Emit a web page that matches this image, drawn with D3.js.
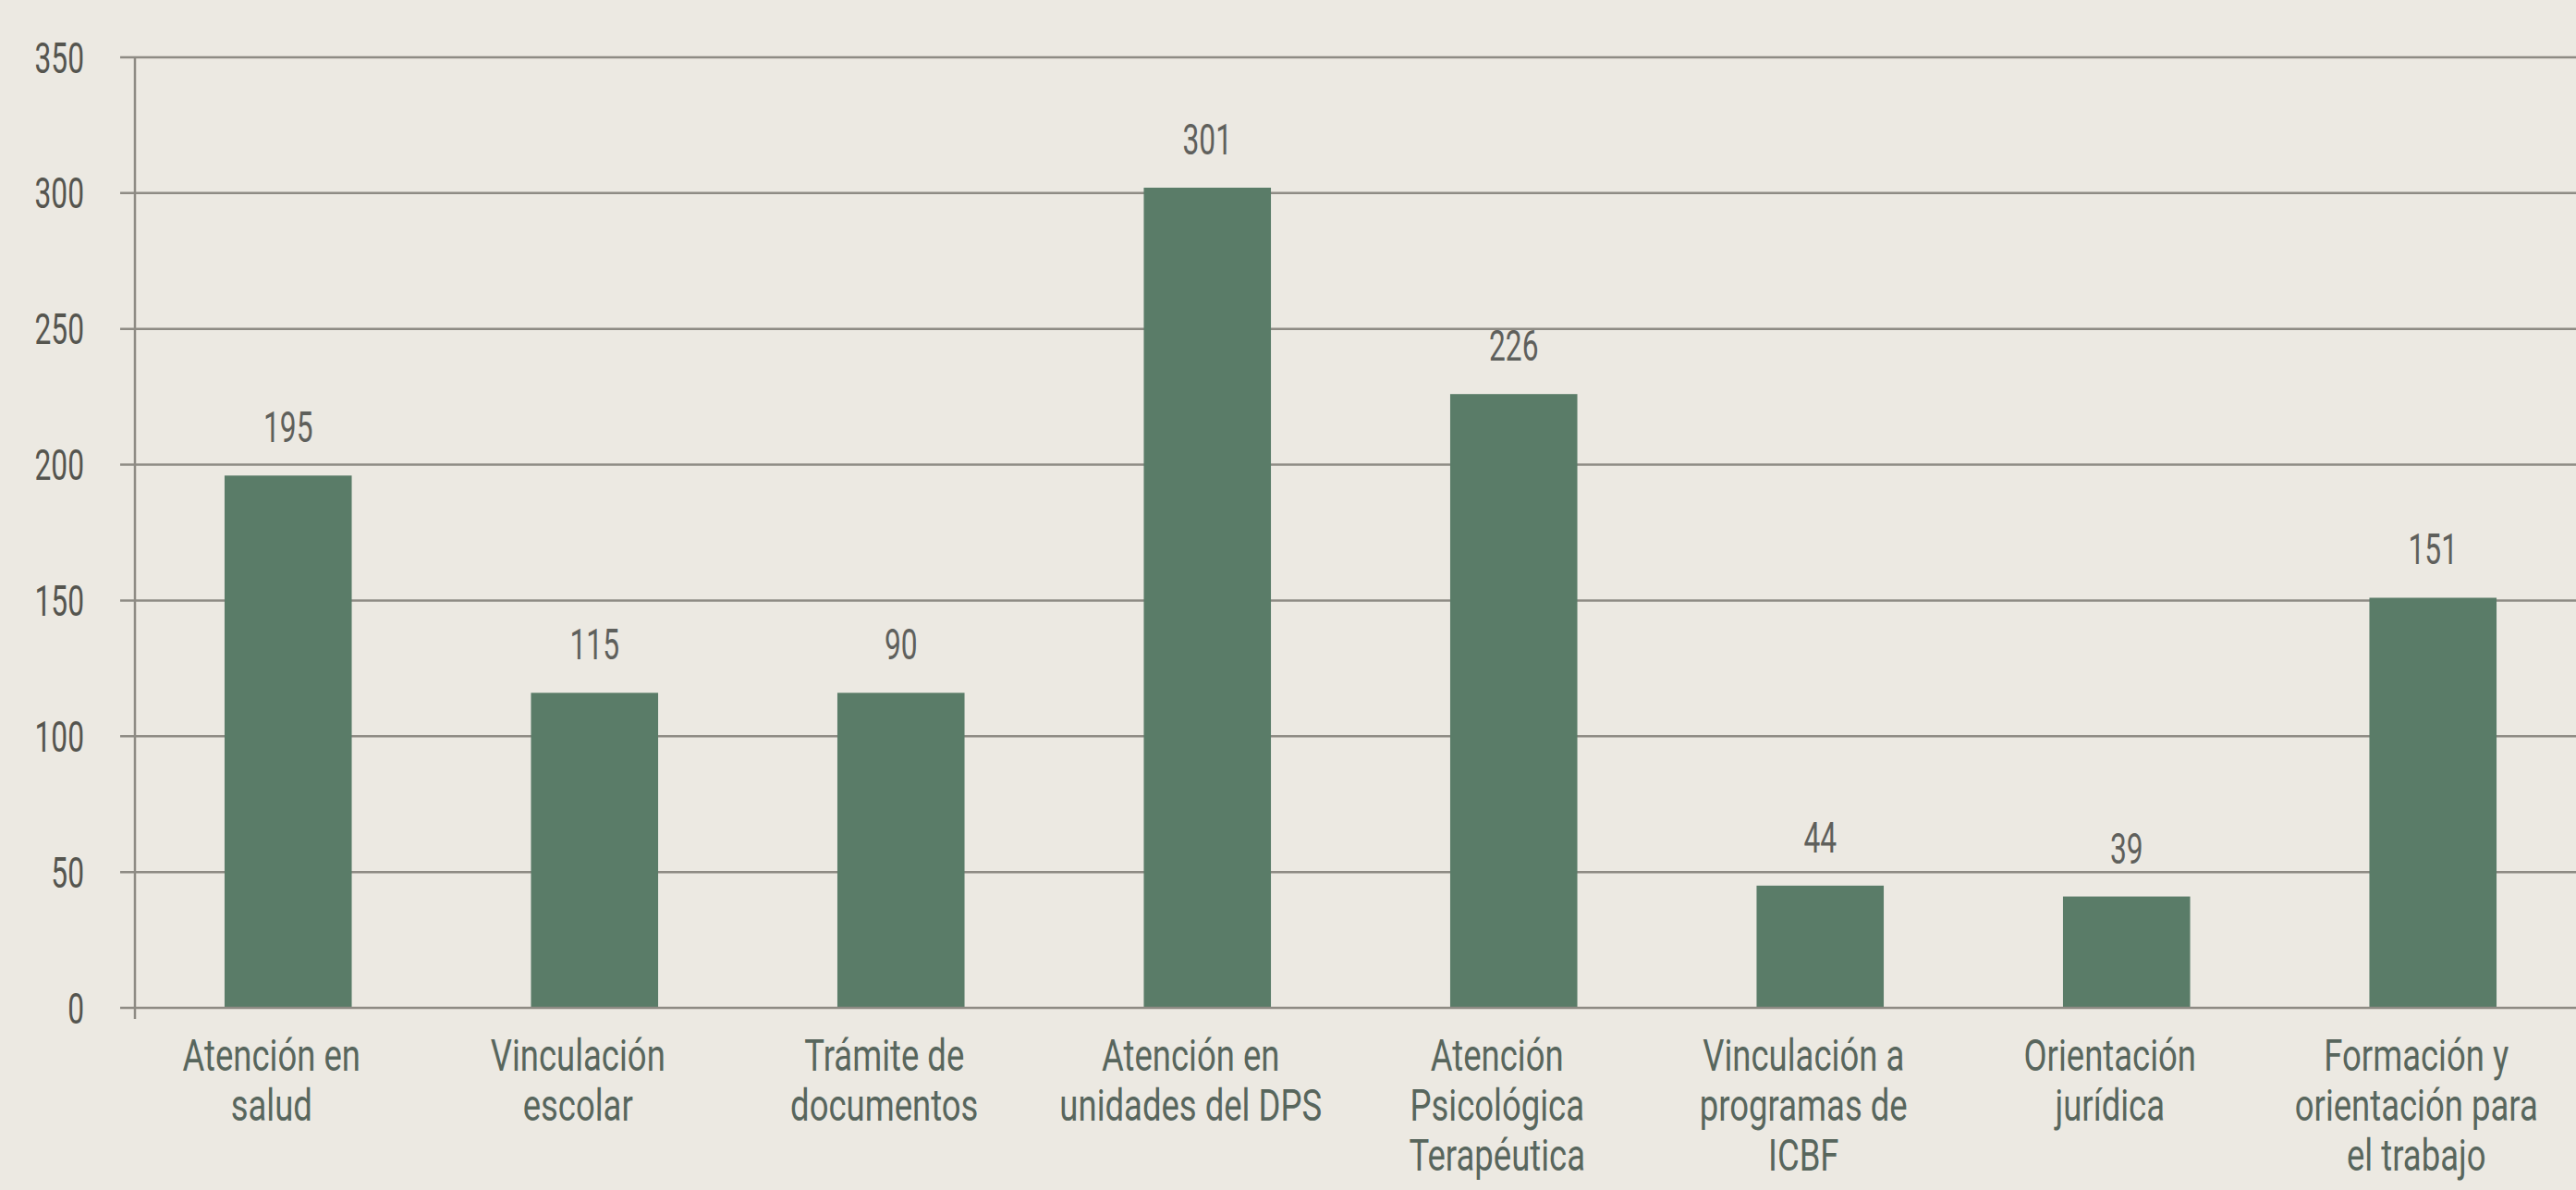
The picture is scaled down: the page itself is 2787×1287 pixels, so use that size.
<!DOCTYPE html>
<html>
<head>
<meta charset="utf-8">
<script src="https://cdn.jsdelivr.net/npm/d3@7"></script>
<style>
  html, body { margin: 0; padding: 0; background: #ece9e2; }
  svg { display: block; }
</style>
</head>
<body>
<div id="chart"></div>
<script>
// Categories (each split into the lines shown under the bar)
const categories = [
  ['Atención en', 'salud'],
  ['Vinculación', 'escolar'],
  ['Trámite de', 'documentos'],
  ['Atención en', 'unidades del DPS'],
  ['Atención', 'Psicológica', 'Terapéutica'],
  ['Vinculación a', 'programas de', 'ICBF'],
  ['Orientación', 'jurídica'],
  ['Formación y', 'orientación para', 'el trabajo']
];

// Bar heights as drawn in the picture
const barValues = [196, 116, 116, 302, 226, 45, 41, 151];

// Value labels printed above the bars
const valueLabels = ['195', '115', '90', '301', '226', '44', '39', '151'];

// Y axis ticks
const yTicks = [0, 50, 100, 150, 200, 250, 300, 350];

const width = 2787;
const height = 1287;
const axisX = 146;

const COLORS = {
  bg: '#ece9e2',
  bar: '#5a7c68',
  grid: '#8e8b84',
  tick: '#55554f',
  value: '#5f605c',
  cat: '#58665d'
};

const FONT = "Roboto, 'Liberation Sans', sans-serif";
const SQUEEZE = 0.69;

const svg = d3.select('#chart')
  .append('svg')
  .attr('width', width)
  .attr('height', height);

svg.append('rect')
  .attr('width', width)
  .attr('height', height)
  .attr('fill', COLORS.bg);

const x = d3.scaleBand()
  .domain(d3.range(categories.length))
  .range([axisX, 2798])
  .paddingInner(0.585)
  .paddingOuter(0.2925);

const y = d3.scaleLinear()
  .domain([0, 350])
  .range([1090, 62]);

// Gridlines (extend a little left of the axis as tick marks)
svg.append('g')
  .selectAll('line')
  .data(yTicks.filter(d => d !== 0))
  .join('line')
  .attr('x1', axisX - 16)
  .attr('x2', width)
  .attr('y1', d => y(d))
  .attr('y2', d => y(d))
  .attr('stroke', COLORS.grid)
  .attr('stroke-width', 2.5);

// Bars
svg.append('g')
  .selectAll('rect')
  .data(barValues)
  .join('rect')
  .attr('x', (d, i) => x(i))
  .attr('y', d => y(d))
  .attr('width', x.bandwidth())
  .attr('height', d => y(0) - y(d))
  .attr('fill', COLORS.bar);

// Zero line on top of the bars
svg.append('line')
  .attr('x1', axisX - 16)
  .attr('x2', width)
  .attr('y1', y(0))
  .attr('y2', y(0))
  .attr('stroke', COLORS.grid)
  .attr('stroke-width', 2.5);

// Y axis
const yAxis = svg.append('g')
  .attr('transform', `translate(${axisX},0)`)
  .call(d3.axisLeft(y).tickValues(yTicks).tickSize(0).tickPadding(0));

yAxis.select('.domain').remove();
yAxis.append('line')
  .attr('x1', 0).attr('x2', 0)
  .attr('y1', y(350) - 1)
  .attr('y2', y(0) + 12)
  .attr('stroke', COLORS.grid)
  .attr('stroke-width', 2.5);

yAxis.selectAll('.tick text')
  .attr('x', null)
  .attr('dy', null)
  .attr('transform', 'translate(-55,16) scale(' + SQUEEZE + ',1)')
  .attr('text-anchor', 'end')
  .attr('fill', COLORS.tick)
  .attr('font-family', FONT)
  .attr('font-size', 46);

// Value labels
svg.append('g')
  .selectAll('text')
  .data(barValues)
  .join('text')
  .attr('transform', (d, i) => `translate(${x(i) + x.bandwidth() / 2},${y(d) - 36}) scale(${SQUEEZE},1)`)
  .attr('text-anchor', 'middle')
  .attr('fill', COLORS.value)
  .attr('font-family', FONT)
  .attr('font-size', 46)
  .text((d, i) => valueLabels[i]);

// Category labels
const catGroups = svg.append('g')
  .selectAll('g')
  .data(categories)
  .join('g')
  .attr('transform', (d, i) => `translate(${x(i) + x.bandwidth() / 2 - 18},0)`);

catGroups.selectAll('text')
  .data(d => d)
  .join('text')
  .attr('transform', (d, j) => `translate(0,${1158 + j * 54}) scale(0.76,1)`)
  .attr('text-anchor', 'middle')
  .attr('fill', COLORS.cat)
  .attr('font-family', FONT)
  .attr('font-size', 48)
  .text(d => d);
</script>
</body>
</html>
